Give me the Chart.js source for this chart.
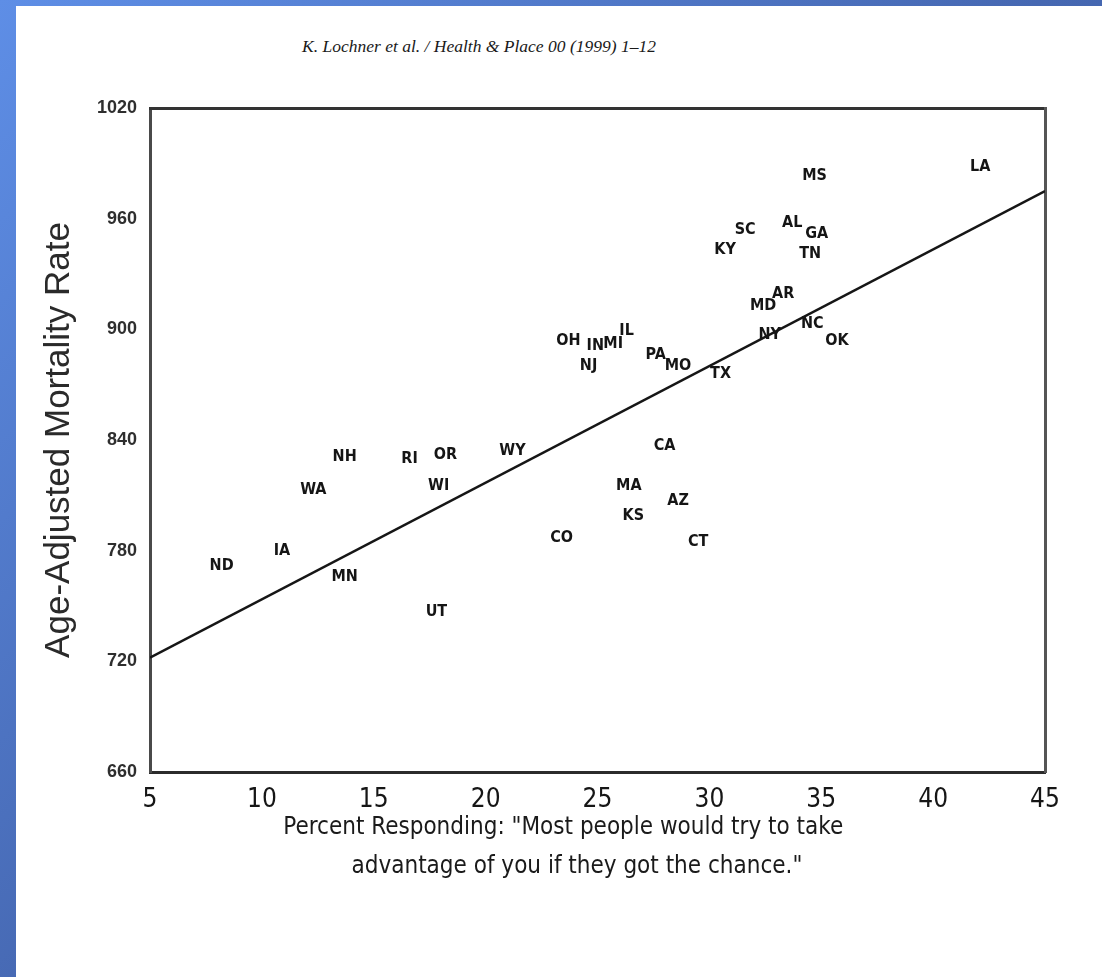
<!DOCTYPE html>
<html>
<head>
<meta charset="utf-8">
<script src="https://cdn.jsdelivr.net/npm/chart.js@4/dist/chart.umd.min.js"></script>
<style>
    html, body {
        margin: 0;
        padding: 0;
        width: 1102px;
        height: 977px;
        overflow: hidden;
        background: linear-gradient(135deg, #5e8ee6 0%, #4668b2 50%, #3c5aa0 100%);
    }
    #page {
        position: absolute;
        left: 16px;
        top: 6px;
        width: 1086px;
        height: 971px;
        background: #fff;
    }
    #header {
        position: absolute;
        left: 0;
        width: 926px;
        top: 30px;
        text-align: center;
        font: italic 17.5px "Liberation Serif", "DejaVu Serif", serif;
        color: #1a1a1a;
    }
    #chartBox {
        position: absolute;
        left: 0;
        top: 0;
        width: 1086px;
        height: 971px;
    }
</style>
</head>
<body>
<div id="page">
    <div id="header">K. Lochner et al. / Health &amp; Place 00 (1999) 1–12</div>
    <div id="chartBox"><canvas id="scatterChart"></canvas></div>
</div>
<script>
// State codes with their x (percent distrust) and y (mortality) values
const states = ['ND', 'IA', 'WA', 'NH', 'MN', 'RI', 'OR', 'WI', 'UT', 'WY', 'CO', 'OH', 'NJ', 'IN', 'MI', 'IL', 'PA', 'MO', 'TX', 'CA', 'MA', 'KS', 'AZ', 'CT', 'KY', 'SC', 'MS', 'AL', 'GA', 'TN', 'MD', 'AR', 'NY', 'NC', 'OK', 'LA'];
const distrust = [8.2, 10.9, 12.3, 13.7, 13.7, 16.6, 18.2, 17.9, 17.8, 21.2, 23.4, 23.7, 24.6, 24.9, 25.7, 26.3, 27.6, 28.6, 30.5, 28.0, 26.4, 26.6, 28.6, 29.5, 30.7, 31.6, 34.7, 33.7, 34.8, 34.5, 32.4, 33.3, 32.7, 34.6, 35.7, 42.1];
const mortality = [772, 780, 813, 831, 766, 830, 832, 815, 747, 834, 787, 894, 880, 891, 892, 899, 886, 880, 876, 837, 815, 799, 807, 785, 943, 954, 983, 958, 952, 941, 913, 919, 897, 903, 894, 988];

// Fitted regression line end points
const fitX = [5, 45];
const fitY = [722, 975];

const xTicks = [5, 10, 15, 20, 25, 30, 35, 40, 45];
const yTicks = [660, 720, 780, 840, 900, 960, 1020];

const narrowFont = '"Liberation Sans Narrow", "DejaVu Sans Condensed", "Liberation Sans", sans-serif';

// Draw each state code at its point
const stateLabels = {
    id: 'stateLabels',
    afterDatasetsDraw(chart) {
        const ctx = chart.ctx;
        const meta = chart.getDatasetMeta(0);
        ctx.save();
        ctx.font = 'bold 16px ' + narrowFont;
        ctx.fillStyle = '#151515';
        ctx.textAlign = 'center';
        ctx.textBaseline = 'middle';
        meta.data.forEach((pt, i) => {
            ctx.fillText(states[i], pt.x, pt.y);
        });
        ctx.restore();
    }
};

const ctx = document.getElementById('scatterChart').getContext('2d');
new Chart(ctx, {
    type: 'scatter',
    data: {
        datasets: [{
            label: 'States',
            data: states.map((s, i) => ({ x: distrust[i], y: mortality[i] })),
            pointRadius: 0,
            pointHoverRadius: 0
        }, {
            type: 'line',
            label: 'Fit',
            data: fitX.map((x, i) => ({ x: x, y: fitY[i] })),
            borderColor: '#161616',
            borderWidth: 2.5,
            pointRadius: 0,
            fill: false
        }]
    },
    options: {
        responsive: true,
        maintainAspectRatio: false,
        animation: false,
        layout: {
            padding: { top: 102, right: 57, bottom: 0, left: 0 }
        },
        plugins: {
            legend: { display: false },
            tooltip: { enabled: false }
        },
        scales: {
            x: {
                type: 'linear',
                position: 'bottom',
                min: 5,
                max: 45,
                afterBuildTicks: scale => { scale.ticks = xTicks.map(v => ({ value: v })); },
                afterFit: scale => { scale.height = 205; },
                grid: { display: false, drawTicks: false },
                border: { display: true, color: '#2b2b2b', width: 3 },
                ticks: {
                    padding: 13,
                    color: '#161616',
                    font: { family: narrowFont, size: 26 },
                    callback: v => String(v)
                },
                title: {
                    display: true,
                    // trailing spaces nudge the centred title left, as in the scan
                    text: ['Percent Responding: "Most people would try to take          ', 'advantage of you if they got the chance."      '],
                    color: '#1a1a1a',
                    font: { family: narrowFont, size: 24, lineHeight: 1.65 },
                    padding: { top: 0, bottom: 90 }
                }
            },
            y: {
                type: 'linear',
                position: 'left',
                min: 660,
                max: 1020,
                afterBuildTicks: scale => { scale.ticks = yTicks.map(v => ({ value: v })); },
                afterFit: scale => { scale.width = 134; },
                grid: { display: false, drawTicks: false },
                border: { display: true, color: '#4a4a4a', width: 3 },
                ticks: {
                    padding: 13,
                    color: '#2e2e2e',
                    font: { family: '"Liberation Sans", Arial, sans-serif', size: 18, weight: 'bold' },
                    callback: v => String(v)
                },
                title: {
                    display: true,
                    text: 'Age-Adjusted Mortality Rate',
                    color: '#2a2a2a',
                    font: { family: '"Liberation Sans", Arial, sans-serif', size: 35 },
                    padding: { top: 22, bottom: 0 }
                }
            },
            xTop: {
                type: 'linear',
                position: 'top',
                min: 5,
                max: 45,
                afterFit: scale => { scale.height = 0; },
                grid: { display: false, drawTicks: false },
                border: { display: true, color: '#333', width: 3 },
                ticks: { display: false }
            },
            yRight: {
                type: 'linear',
                position: 'right',
                min: 660,
                max: 1020,
                afterFit: scale => { scale.width = 0; },
                grid: { display: false, drawTicks: false },
                border: { display: true, color: '#555', width: 3 },
                ticks: { display: false }
            }
        }
    },
    plugins: [stateLabels]
});
</script>
</body>
</html>
